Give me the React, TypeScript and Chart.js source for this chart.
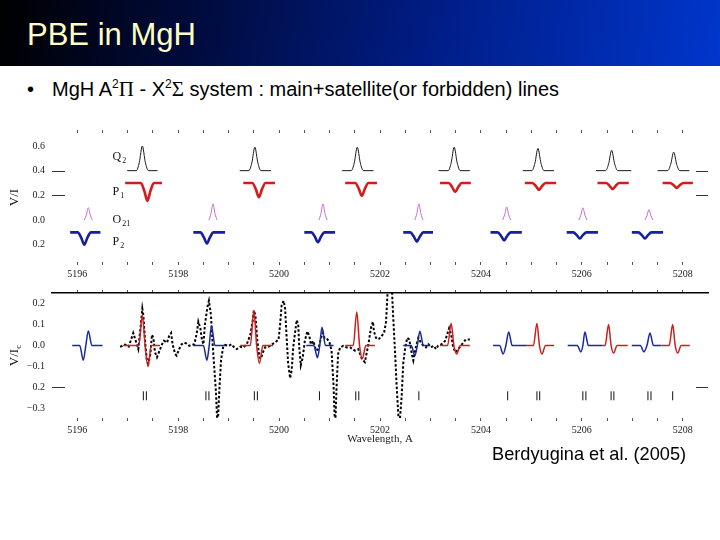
import React, { useEffect, useRef } from "react";
import { Chart, registerables } from "chart.js";

Chart.register(...registerables);

// ---------------- axes ----------------
const waveMin = 5195.5;
const waveMax = 5208.5;
const waveStep = 0.5;
const waveTickValues = [5196, 5198, 5200, 5202, 5204, 5206, 5208];
const waveTickLabels = ["5196", "5198", "5200", "5202", "5204", "5206", "5208"];

const topYMin = -0.34;
const topYMax = 0.705;
const topYTicks = [0.6, 0.4, 0.2, 0.0, -0.2];
const topYTickLabels = ["0.6", "0.4", "0.2", "0.0", "0.2"];
const topEdgeMarks = [0.4, 0.2];

const botYMin = -0.346;
const botYMax = 0.251;
const botYTicks = [0.2, 0.1, 0.0, -0.1, -0.2, -0.3];
const botYTickLabels = ["0.2", "0.1", "0.0", "\u22120.1", "0.2", "\u22120.3"];
const botEdgeMarks = [-0.2];

// ---------------- top panel: branch labels ----------------
const branchNames = ["Q", "P", "O", "P"];
const branchSubs = ["2", "1", "21", "2"];
const branchLevels = [0.515, 0.23, 0.005, -0.18];
const branchWave = 5196.7;

// ---------------- top panel profiles (wavelength, V/I) ----------------
const q2Profiles = [
  [[5196.99, 0.4], [5197.17, 0.4], [5197.23, 0.466], [5197.29, 0.6], [5197.35, 0.466], [5197.41, 0.4], [5197.59, 0.4]],
  [[5199.22, 0.4], [5199.4, 0.4], [5199.46, 0.463], [5199.52, 0.59], [5199.58, 0.463], [5199.64, 0.4], [5199.84, 0.4]],
  [[5201.25, 0.4], [5201.43, 0.4], [5201.49, 0.463], [5201.55, 0.59], [5201.61, 0.463], [5201.67, 0.4], [5201.87, 0.4]],
  [[5203.16, 0.4], [5203.35, 0.4], [5203.41, 0.463], [5203.47, 0.59], [5203.53, 0.463], [5203.59, 0.4], [5203.78, 0.4]],
  [[5204.83, 0.4], [5205.01, 0.4], [5205.07, 0.46], [5205.13, 0.58], [5205.19, 0.46], [5205.25, 0.4], [5205.45, 0.4]],
  [[5206.28, 0.4], [5206.47, 0.4], [5206.53, 0.455], [5206.59, 0.565], [5206.65, 0.455], [5206.71, 0.4], [5206.98, 0.4]],
  [[5207.5, 0.4], [5207.7, 0.4], [5207.76, 0.45], [5207.82, 0.55], [5207.88, 0.45], [5207.94, 0.4], [5208.13, 0.4]],
];

const p1Profiles = [
  [[5196.95, 0.3], [5197.26, 0.3], [5197.33, 0.235], [5197.39, 0.155], [5197.45, 0.235], [5197.52, 0.3], [5197.68, 0.3]],
  [[5199.29, 0.3], [5199.47, 0.3], [5199.54, 0.248], [5199.6, 0.185], [5199.66, 0.248], [5199.73, 0.3], [5199.92, 0.3]],
  [[5201.31, 0.3], [5201.51, 0.3], [5201.58, 0.253], [5201.64, 0.195], [5201.7, 0.253], [5201.77, 0.3], [5201.94, 0.3]],
  [[5203.19, 0.3], [5203.36, 0.3], [5203.43, 0.267], [5203.49, 0.227], [5203.55, 0.267], [5203.62, 0.3], [5203.8, 0.3]],
  [[5204.87, 0.3], [5205.02, 0.3], [5205.09, 0.275], [5205.15, 0.245], [5205.21, 0.275], [5205.28, 0.3], [5205.49, 0.3]],
  [[5206.31, 0.3], [5206.48, 0.3], [5206.55, 0.277], [5206.61, 0.25], [5206.67, 0.277], [5206.74, 0.3], [5206.93, 0.3]],
  [[5207.6, 0.3], [5207.75, 0.3], [5207.82, 0.282], [5207.88, 0.26], [5207.94, 0.282], [5208.01, 0.3], [5208.2, 0.3]],
];

const o21Profiles = [
  [[5196.14, 0], [5196.18, 0.04], [5196.22, 0.1], [5196.26, 0.04], [5196.3, 0]],
  [[5198.61, 0], [5198.65, 0.052], [5198.69, 0.13], [5198.73, 0.052], [5198.77, 0]],
  [[5200.79, 0], [5200.83, 0.052], [5200.87, 0.13], [5200.91, 0.052], [5200.95, 0]],
  [[5202.69, 0], [5202.73, 0.052], [5202.77, 0.13], [5202.81, 0.052], [5202.85, 0]],
  [[5204.43, 0], [5204.47, 0.042], [5204.51, 0.105], [5204.55, 0.042], [5204.59, 0]],
  [[5205.94, 0], [5205.98, 0.04], [5206.02, 0.1], [5206.06, 0.04], [5206.1, 0]],
  [[5207.25, 0], [5207.29, 0.034], [5207.33, 0.085], [5207.37, 0.034], [5207.41, 0]],
];

const p2Profiles = [
  [[5195.86, -0.1], [5196.01, -0.1], [5196.08, -0.145], [5196.14, -0.2], [5196.2, -0.145], [5196.27, -0.1], [5196.46, -0.1]],
  [[5198.3, -0.1], [5198.44, -0.1], [5198.51, -0.14], [5198.57, -0.19], [5198.63, -0.14], [5198.7, -0.1], [5198.93, -0.1]],
  [[5200.5, -0.1], [5200.64, -0.1], [5200.71, -0.136], [5200.77, -0.18], [5200.83, -0.136], [5200.9, -0.1], [5201.11, -0.1]],
  [[5202.46, -0.1], [5202.6, -0.1], [5202.67, -0.134], [5202.73, -0.175], [5202.79, -0.134], [5202.86, -0.1], [5203.05, -0.1]],
  [[5204.19, -0.1], [5204.33, -0.1], [5204.4, -0.129], [5204.46, -0.165], [5204.52, -0.129], [5204.59, -0.1], [5204.81, -0.1]],
  [[5205.7, -0.1], [5205.83, -0.1], [5205.9, -0.122], [5205.96, -0.15], [5206.02, -0.122], [5206.09, -0.1], [5206.32, -0.1]],
  [[5206.99, -0.1], [5207.12, -0.1], [5207.19, -0.122], [5207.25, -0.15], [5207.31, -0.122], [5207.38, -0.1], [5207.61, -0.1]],
];

// ---------------- bottom panel: model profiles ----------------
const blueModelProfiles = [
  [[5195.9, 0], [5196.05, 0], [5196.12, -0.07], [5196.17, 0], [5196.22, 0.07], [5196.29, 0], [5196.5, 0]],
  [[5198.3, 0], [5198.5, 0], [5198.57, -0.07], [5198.615, 0], [5198.66, 0.093], [5198.73, 0], [5198.93, 0]],
  [[5200.54, 0], [5200.69, 0], [5200.76, -0.058], [5200.805, 0], [5200.85, 0.088], [5200.92, 0], [5201.08, 0]],
  [[5202.46, 0], [5202.62, 0], [5202.69, -0.048], [5202.74, 0], [5202.79, 0.068], [5202.86, 0], [5202.99, 0]],
  [[5204.24, 0], [5204.37, 0], [5204.44, -0.04], [5204.495, 0], [5204.55, 0.065], [5204.62, 0], [5204.91, 0]],
  [[5205.72, 0], [5205.91, 0], [5205.98, -0.03], [5206.02, 0], [5206.06, 0.065], [5206.13, 0], [5206.4, 0]],
  [[5206.99, 0], [5207.16, 0], [5207.23, -0.03], [5207.29, 0], [5207.35, 0.06], [5207.42, 0], [5207.58, 0]],
];

const redModelProfiles = [
  [[5196.91, 0], [5197.22, 0], [5197.29, 0.145], [5197.345, 0], [5197.4, -0.1], [5197.47, 0], [5197.64, 0]],
  [[5199.23, 0], [5199.43, 0], [5199.5, 0.168], [5199.555, 0], [5199.61, -0.085], [5199.68, 0], [5199.88, 0]],
  [[5201.31, 0], [5201.47, 0], [5201.54, 0.16], [5201.595, 0], [5201.65, -0.063], [5201.72, 0], [5201.9, 0]],
  [[5203.19, 0], [5203.34, 0], [5203.41, 0.106], [5203.465, 0], [5203.52, -0.04], [5203.59, 0], [5203.78, 0]],
  [[5204.91, 0], [5205.04, 0], [5205.11, 0.105], [5205.16, 0], [5205.21, -0.04], [5205.28, 0], [5205.45, 0]],
  [[5206.4, 0], [5206.46, 0], [5206.53, 0.1], [5206.58, 0], [5206.63, -0.035], [5206.7, 0], [5206.91, 0]],
  [[5207.58, 0], [5207.73, 0], [5207.8, 0.1], [5207.85, 0], [5207.9, -0.035], [5207.97, 0], [5208.14, 0]],
];

// ---------------- bottom panel: observed spectrum ----------------
const obsWave = [
  5196.85, 5196.95, 5197.02, 5197.06, 5197.11, 5197.17, 5197.21, 5197.26, 5197.29, 5197.31,
  5197.35, 5197.38, 5197.41, 5197.45, 5197.48, 5197.51, 5197.54, 5197.58, 5197.63, 5197.68,
  5197.72, 5197.78, 5197.82, 5197.86, 5197.89, 5197.94, 5197.97, 5198.02, 5198.07, 5198.12,
  5198.17, 5198.22, 5198.27, 5198.32, 5198.37, 5198.4, 5198.44, 5198.47, 5198.5, 5198.53,
  5198.58, 5198.61, 5198.65, 5198.68, 5198.71, 5198.75, 5198.78, 5198.82, 5198.85, 5198.89,
  5198.93, 5199.0, 5199.06, 5199.1, 5199.16, 5199.23, 5199.29, 5199.36, 5199.43, 5199.48,
  5199.5, 5199.53, 5199.57, 5199.61, 5199.64, 5199.68, 5199.72, 5199.79, 5199.86, 5199.92,
  5199.99, 5200.02, 5200.05, 5200.09, 5200.12, 5200.15, 5200.18, 5200.22, 5200.25, 5200.28,
  5200.32, 5200.35, 5200.38, 5200.4, 5200.43, 5200.47, 5200.51, 5200.56, 5200.6, 5200.63,
  5200.68, 5200.73, 5200.78, 5200.83, 5200.87, 5200.9, 5200.94, 5201.0, 5201.04, 5201.08,
  5201.11, 5201.14, 5201.17, 5201.21, 5201.27, 5201.34, 5201.41, 5201.5, 5201.57, 5201.64,
  5201.7, 5201.77, 5201.82, 5201.86, 5201.88, 5201.92, 5201.97, 5202.03, 5202.08, 5202.12,
  5202.14, 5202.16, 5202.23, 5202.26, 5202.3, 5202.33, 5202.38, 5202.43, 5202.46, 5202.5,
  5202.54, 5202.58, 5202.63, 5202.66, 5202.71, 5202.76, 5202.81, 5202.86, 5202.91, 5202.96,
  5203.01, 5203.06, 5203.11, 5203.15, 5203.22, 5203.29, 5203.33, 5203.37, 5203.41, 5203.45,
  5203.5, 5203.55, 5203.6, 5203.65, 5203.7, 5203.78,
];
const obsValue = [
  -0.006, 0.005, -0.005, 0.023, 0.06, 0.014, -0.017, 0.099, 0.176, 0.145,
  0.006, -0.069, -0.086, -0.04, 0.052, 0.037, -0.032, -0.056, -0.025, 0.006,
  0.023, 0.014, 0.045, 0.06, 0.006, -0.04, -0.048, -0.017, 0.006, 0.014,
  0.009, -0.001, 0.003, 0.006, 0.06, 0.114, 0.083, 0.029, 0.006, 0.099,
  0.184, 0.214, 0.145, 0.022, -0.086, -0.225, -0.4, -0.194, -0.069, -0.009,
  0.003, -0.001, 0.006, -0.006, -0.017, -0.006, -0.009, 0.006, 0.052, 0.122,
  0.168, 0.145, 0.022, -0.056, -0.063, -0.032, -0.009, -0.006, 0.006, 0.014,
  0.029, 0.099, 0.191, 0.214, 0.176, 0.037, -0.086, -0.156, -0.117, -0.009,
  0.068, 0.122, 0.099, -0.009, -0.094, -0.056, 0.022, 0.068, 0.045, 0.006,
  0.022, -0.024, -0.017, 0.037, 0.06, 0.037, 0.037, 0.014, -0.024, -0.194,
  -0.4, -0.194, -0.04, -0.009, -0.001, -0.009, -0.009, -0.024, -0.017, -0.063,
  -0.079, 0.006, 0.083, 0.114, 0.068, 0.037, 0.029, 0.045, 0.06, 0.114,
  0.206, 0.3, 0.3, 0.145, -0.04, -0.194, -0.4, -0.241, -0.087, -0.009,
  0.037, 0.029, -0.04, -0.071, -0.009, 0.037, 0.014, -0.001, -0.009, 0.006,
  -0.009, -0.001, -0.017, -0.001, 0.006, 0.022, 0.052, 0.083, 0.052, -0.009,
  -0.032, -0.017, -0.001, 0.014, 0.029, 0.029,
];

// ---------------- bottom panel: line positions ----------------
const lineMarkWaves = [
  5197.31, 5197.37, 5198.55, 5198.61, 5199.51, 5199.57, 5200.8, 5201.52, 5201.58, 5202.77,
  5204.53, 5205.11, 5205.165, 5206.02, 5206.08, 5206.58, 5206.635, 5207.31, 5207.37, 5207.8,
];
const lineMarkLevel = -0.24;

// ---------------- styling ----------------
const SERIF = '"Liberation Serif", "DejaVu Serif", serif';
const SANS = '"Liberation Sans", Arial, sans-serif';

function profileDataset(profile: number[][], color: string, width: number) {
  return {
    data: profile.map(([x, y]) => ({ x, y })),
    borderColor: color,
    borderWidth: width,
    pointRadius: 0,
    fill: false,
    cubicInterpolationMode: "monotone" as const,
  };
}

const tickColorFn = (c: any) =>
  c.tick && c.tick.value > waveMin + 0.1 && c.tick.value < waveMax - 0.1 ? "#555" : "rgba(0,0,0,0)";

function waveAxis(position: "top" | "bottom", height: number, showLabels: boolean, title?: string, borderTop?: boolean) {
  return {
    type: "linear",
    position,
    min: waveMin,
    max: waveMax,
    ticks: {
      stepSize: waveStep,
      autoSkip: false,
      maxRotation: 0,
      display: showLabels,
      padding: 3,
      color: "#222",
      font: { family: SERIF, size: 10 },
      callback: (v: any) => {
        const i = waveTickValues.findIndex((t) => Math.abs(t - Number(v)) < 1e-6);
        return i >= 0 ? waveTickLabels[i] : "";
      },
    },
    grid: {
      drawOnChartArea: false,
      drawTicks: true,
      tickLength: 3,
      color: tickColorFn,
      tickColor: tickColorFn,
      tickWidth: 1,
    },
    border: borderTop ? { display: true, color: "#000", width: 1.5 } : { display: false },
    title: title
      ? { display: true, text: title, color: "#222", font: { family: SERIF, size: 11 }, padding: { top: 0, bottom: 4 } }
      : { display: false },
    afterFit: (s: any) => {
      s.height = height;
    },
  };
}

function valueAxis(min: number, max: number, ticks: number[], labels: string[]) {
  return {
    type: "linear",
    position: "left",
    min,
    max,
    afterBuildTicks: (s: any) => {
      s.ticks = ticks.map((v) => ({ value: v }));
    },
    ticks: {
      padding: 7,
      color: "#222",
      font: { family: SERIF, size: 10 },
      callback: (v: any) => {
        const i = ticks.findIndex((t) => Math.abs(t - Number(v)) < 1e-6);
        return i >= 0 ? labels[i] : "";
      },
    },
    grid: { display: false, drawTicks: false },
    border: { display: false },
    afterFit: (s: any) => {
      s.width = 52;
    },
  };
}

function makeAnnotPlugin(cfg: {
  edge: number[];
  yTitle: string;
  yTitleSub?: string;
  labels?: boolean;
}) {
  return {
    id: "annot",
    afterDraw(chart: any) {
      const { ctx, chartArea, scales } = chart;
      ctx.save();
      // inward edge marks
      ctx.strokeStyle = "#333";
      ctx.lineWidth = 1.2;
      cfg.edge.forEach((v) => {
        const y = Math.round(scales.y.getPixelForValue(v)) + 0.5;
        ctx.beginPath();
        ctx.moveTo(chartArea.left, y);
        ctx.lineTo(chartArea.left + 13, y);
        ctx.moveTo(chartArea.right - 12, y);
        ctx.lineTo(chartArea.right, y);
        ctx.stroke();
      });
      // branch labels
      if (cfg.labels) {
        ctx.fillStyle = "#111";
        ctx.textBaseline = "middle";
        ctx.textAlign = "left";
        branchNames.forEach((name, i) => {
          const x = scales.x.getPixelForValue(branchWave);
          const y = scales.y.getPixelForValue(branchLevels[i]);
          ctx.font = `12px ${SERIF}`;
          ctx.fillText(name, x, y);
          const w = ctx.measureText(name).width;
          ctx.font = `8px ${SERIF}`;
          ctx.fillText(branchSubs[i], x + w + 1, y + 4);
        });
      }
      // y title
      ctx.translate(15, (chartArea.top + chartArea.bottom) / 2);
      ctx.rotate(-Math.PI / 2);
      ctx.fillStyle = "#222";
      ctx.textBaseline = "middle";
      ctx.textAlign = "left";
      ctx.font = `13px ${SERIF}`;
      const mainW = ctx.measureText(cfg.yTitle).width;
      let subW = 0;
      if (cfg.yTitleSub) {
        ctx.font = `9px ${SERIF}`;
        subW = ctx.measureText(cfg.yTitleSub).width;
      }
      const start = -(mainW + subW) / 2;
      ctx.font = `13px ${SERIF}`;
      ctx.fillText(cfg.yTitle, start, 0);
      if (cfg.yTitleSub) {
        ctx.font = `9px ${SERIF}`;
        ctx.fillText(cfg.yTitleSub, start + mainW, 4);
      }
      ctx.restore();
    },
  };
}

function baseOptions(scales: any) {
  return {
    responsive: false,
    animation: false,
    devicePixelRatio: 1,
    layout: { padding: { left: 0, right: 12, top: 0, bottom: 0 } },
    plugins: { legend: { display: false }, tooltip: { enabled: false } },
    events: [],
    scales,
  };
}

export default function App() {
  const topRef = useRef<HTMLCanvasElement>(null);
  const botRef = useRef<HTMLCanvasElement>(null);

  useEffect(() => {
    const topDatasets = [
      ...q2Profiles.map((p) => profileDataset(p, "#1a1a1a", 1)),
      ...p1Profiles.map((p) => profileDataset(p, "#d41c1c", 2.6)),
      ...o21Profiles.map((p) => profileDataset(p, "#c26ad0", 1)),
      ...p2Profiles.map((p) => profileDataset(p, "#15209a", 2.6)),
    ];
    const top = new Chart(topRef.current as HTMLCanvasElement, {
      type: "line",
      data: { datasets: topDatasets as any },
      options: baseOptions({
        x: waveAxis("bottom", 23, true),
        x2: waveAxis("top", 13, false),
        y: valueAxis(topYMin, topYMax, topYTicks, topYTickLabels),
      }) as any,
      plugins: [makeAnnotPlugin({ edge: topEdgeMarks, yTitle: "V/I", labels: true })],
    });

    const botDatasets: any[] = [
      ...redModelProfiles.map((p) => profileDataset(p, "#cc2020", 1.5)),
      ...blueModelProfiles.map((p) => profileDataset(p, "#1a2a9a", 1.5)),
      {
        data: obsWave.map((x, i) => ({ x, y: obsValue[i] })),
        borderColor: "#000",
        borderWidth: 2,
        borderDash: [2.5, 2],
        pointRadius: 0,
        fill: false,
        tension: 0,
      },
      {
        data: lineMarkWaves.map((x) => ({ x, y: lineMarkLevel })),
        showLine: false,
        pointStyle: "line",
        pointRotation: 90,
        pointRadius: 4.5,
        pointBorderWidth: 1,
        pointBorderColor: "#111",
        pointBackgroundColor: "#111",
      },
    ];
    const bot = new Chart(botRef.current as HTMLCanvasElement, {
      type: "line",
      data: { datasets: botDatasets },
      options: baseOptions({
        x: waveAxis("bottom", 32, true, "Wavelength, A"),
        x2: waveAxis("top", 9, false, undefined, true),
        y: valueAxis(botYMin, botYMax, botYTicks, botYTickLabels),
      }) as any,
      plugins: [makeAnnotPlugin({ edge: botEdgeMarks, yTitle: "V/I", yTitleSub: "c" })],
    });

    return () => {
      top.destroy();
      bot.destroy();
    };
  }, []);

  const sup: React.CSSProperties = { fontSize: 12, position: "relative", top: -8 };
  const greek: React.CSSProperties = { fontFamily: SERIF, fontSize: 21 };

  return (
    <div
      style={{
        position: "fixed",
        left: 0,
        top: 0,
        width: 720,
        height: 540,
        background: "#fff",
        overflow: "hidden",
        fontFamily: SANS,
      }}
    >
      <div
        style={{
          position: "absolute",
          left: 0,
          top: 0,
          width: 720,
          height: 66,
          background: "linear-gradient(100deg, #000000 0%, #000a38 25%, #001d86 60%, #0036cc 100%)",
        }}
      >
        <div
          style={{
            position: "absolute",
            left: 27,
            top: 19,
            fontSize: 31,
            lineHeight: "31px",
            color: "#ffffc4",
            whiteSpace: "nowrap",
          }}
        >
          PBE in MgH
        </div>
      </div>
      <div
        style={{
          position: "absolute",
          left: 27,
          top: 77,
          fontSize: 20,
          lineHeight: "24px",
          color: "#000",
          whiteSpace: "nowrap",
        }}
      >
        <span>•</span>
        <span style={{ position: "absolute", left: 25 }}>
          MgH A<span style={sup}>2</span>
          <span style={greek}>Π</span> - X<span style={sup}>2</span>
          <span style={greek}>Σ</span> system : main+satellite(or forbidden) lines
        </span>
      </div>
      <canvas
        ref={topRef}
        width={720}
        height={165}
        style={{ position: "absolute", left: 0, top: 120, width: 720, height: 165 }}
      />
      <canvas
        ref={botRef}
        width={720}
        height={170}
        style={{ position: "absolute", left: 0, top: 280, width: 720, height: 170 }}
      />
      <div
        style={{
          position: "absolute",
          left: 492,
          top: 444,
          fontSize: 18.2,
          lineHeight: "21px",
          color: "#000",
          whiteSpace: "nowrap",
        }}
      >
        Berdyugina et al. (2005)
      </div>
    </div>
  );
}
